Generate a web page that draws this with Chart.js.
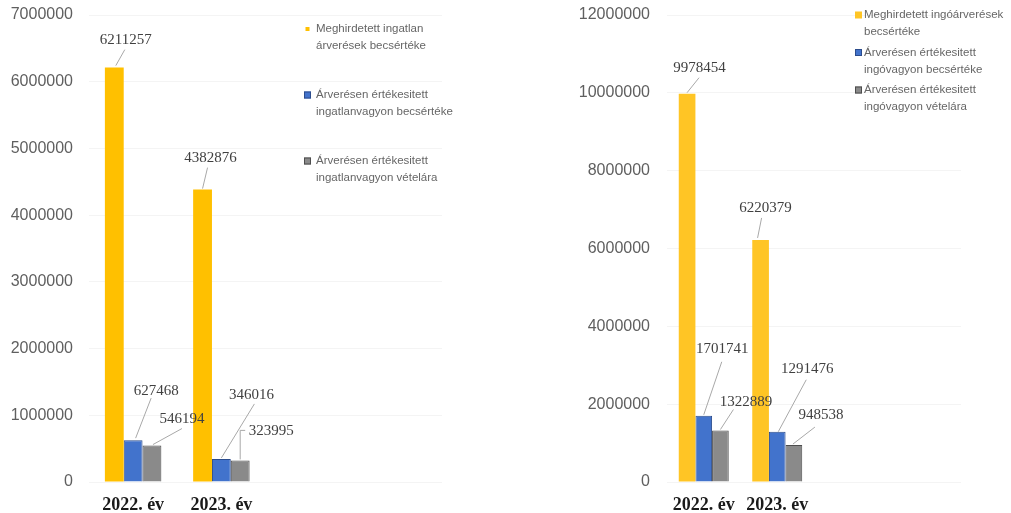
<!DOCTYPE html>
<html>
<head>
<meta charset="utf-8">
<script src="https://cdn.jsdelivr.net/npm/chart.js@4.4.0/dist/chart.umd.min.js"></script>
<style>
  body { margin: 0; background: #fff; width: 1011px; height: 513px; overflow: hidden; position: relative; }
  canvas { position: absolute; top: 0; }
</style>
</head>
<body>
<canvas id="left" width="505" height="513" style="left:0"></canvas>
<canvas id="right" width="506" height="513" style="left:505px"></canvas>
<script>
// categories (two empty slots keep the bars on the left like in the original)
const years = ['2022. év', '2023. év', '', ''];

// ingatlan (left chart)
const ingatlanMeghirdetett = [6211257, 4382876];
const ingatlanErtekesitett = [627468, 346016];
const ingatlanVetelar = [546194, 323995];
const ingatlanNames = [
  ['Meghirdetett ingatlan', 'árverések becsértéke'],
  ['Árverésen értékesitett', 'ingatlanvagyon becsértéke'],
  ['Árverésen értékesitett', 'ingatlanvagyon vételára']
];
const ingatlanTicks = [0, 1000000, 2000000, 3000000, 4000000, 5000000, 6000000, 7000000];

// ingó (right chart)
const ingoMeghirdetett = [9978454, 6220379];
const ingoErtekesitett = [1701741, 1291476];
const ingoVetelar = [1322889, 948538];
const ingoNames = [
  ['Meghirdetett ingóárverések', 'becsértéke'],
  ['Árverésen értékesitett', 'ingóvagyon becsértéke'],
  ['Árverésen értékesitett', 'ingóvagyon vételára']
];
const ingoTicks = [0, 2000000, 4000000, 6000000, 8000000, 10000000, 12000000];

/* ---------- plugins ---------- */

// value labels with thin leader lines, placed relative to the bar top
const leaderLabels = {
  id: 'leaderLabels',
  afterDatasetsDraw(chart, args, opts) {
    const ctx = chart.ctx;
    ctx.save();
    chart.data.datasets.forEach((ds, di) => {
      const meta = chart.getDatasetMeta(di);
      meta.data.forEach((bar, i) => {
        const spot = opts.spots[di][i];
        ctx.strokeStyle = opts.lineColor;
        ctx.lineWidth = 1;
        ctx.beginPath();
        spot.path.forEach(([px, py], k) => {
          const x = bar.x + px, y = bar.y + py;
          if (k) ctx.lineTo(x, y); else ctx.moveTo(x, y);
        });
        ctx.stroke();
        ctx.fillStyle = opts.color;
        ctx.font = opts.font;
        ctx.textAlign = 'center';
        ctx.textBaseline = 'middle';
        ctx.fillText(String(ds.data[i]), bar.x + spot.dx, bar.y + spot.dy);
      });
    });
    ctx.restore();
  }
};

// two-line legend drawn inside the plot
const boxLegend = {
  id: 'boxLegend',
  afterDraw(chart, args, opts) {
    const ctx = chart.ctx;
    ctx.save();
    ctx.font = opts.font;
    ctx.textAlign = 'left';
    ctx.textBaseline = 'middle';
    opts.names.forEach((lines, i) => {
      const ds = chart.data.datasets[i];
      const y = opts.y + i * opts.step;
      const s = opts.boxes[i];
      ctx.fillStyle = ds.backgroundColor;
      ctx.fillRect(opts.x + (7 - s) / 2, y - s / 2, s, s);
      if (ds.borderWidth) {
        ctx.strokeStyle = ds.borderColor;
        ctx.lineWidth = 1;
        ctx.strokeRect(opts.x + (7 - s) / 2 + 0.5, y - s / 2 + 0.5, s - 1, s - 1);
      }
      ctx.fillStyle = opts.color;
      lines.forEach((t, j) => ctx.fillText(t, opts.textX, y + j * opts.lineHeight));
    });
    ctx.restore();
  }
};

function makeChart(id, cfg) {
  return new Chart(document.getElementById(id), {
    type: 'bar',
    data: {
      labels: years,
      datasets: [
        { label: cfg.names[0].join(' '), data: cfg.series[0], backgroundColor: cfg.yellow, borderWidth: 0 },
        { label: cfg.names[1].join(' '), data: cfg.series[1], backgroundColor: '#4273CC', borderColor: '#2C4C8C', borderWidth: 1 },
        { label: cfg.names[2].join(' '), data: cfg.series[2], backgroundColor: '#8A8A8A', borderColor: '#4D4D4D', borderWidth: 1 }
      ]
    },
    options: {
      responsive: false,
      animation: false,
      events: [],
      layout: { padding: { top: 15, right: cfg.padRight, left: 0, bottom: 0 } },
      datasets: { bar: { categoryPercentage: cfg.catPct, barPercentage: 1 } },
      scales: {
        x: {
          grid: { display: false },
          border: { display: false },
          ticks: {
            autoSkip: false, maxRotation: 0, padding: 5,
            color: '#1a1a1a',
            font: { family: '"Liberation Serif", "Times New Roman", serif', size: 18, weight: 'bold' }
          },
          afterFit: s => { s.height = 31; }
        },
        y: {
          min: 0,
          max: cfg.ticks[cfg.ticks.length - 1],
          afterBuildTicks: s => { s.ticks = cfg.ticks.map(v => ({ value: v })); },
          grid: { color: '#f4f4f4', drawTicks: false },
          border: { display: false },
          ticks: {
            padding: cfg.tickPad,
            color: '#5f5f5f',
            font: { family: '"Liberation Sans", Arial, sans-serif', size: 16 },
            callback: v => String(v)
          },
          afterFit: s => {
            s.width = cfg.axisWidth;
            // tick padding is horizontal only here; don't let it push the plot down
            s.paddingTop = 10;
            s.paddingBottom = 10;
          }
        }
      },
      plugins: {
        legend: { display: false },
        tooltip: { enabled: false },
        leaderLabels: {
          spots: cfg.spots,
          lineColor: '#a8a8a8',
          color: '#404040',
          font: '15px "Liberation Serif", "Times New Roman", serif'
        },
        boxLegend: Object.assign({
          names: cfg.names,
          color: '#666666',
          font: '11.5px "Liberation Sans", Arial, sans-serif'
        }, cfg.legend)
      }
    },
    plugins: [leaderLabels, boxLegend]
  });
}

makeChart('left', {
  series: [ingatlanMeghirdetett, ingatlanErtekesitett, ingatlanVetelar],
  names: ingatlanNames,
  ticks: ingatlanTicks,
  yellow: '#FFC000',
  axisWidth: 89, tickPad: 16, padRight: 63, catPct: 0.64,
  legend: { x: 304, textX: 316, y: 29, step: 66, lineHeight: 17, boxes: [4, 7, 7] },
  spots: [
    [{ dx: 11.5, dy: -28, path: [[1.5, -2], [10.5, -18]] }, { dx: 8, dy: -32, path: [[0, -1], [5, -22]] }],
    [{ dx: 23, dy: -49, path: [[2.5, -2], [18, -42]] }, { dx: 30, dy: -64, path: [[0, -1], [33, -55]] }],
    [{ dx: 30, dy: -26, path: [[1, -1], [30, -17]] }, { dx: 31, dy: -29, path: [[0, -1], [0, -30], [5, -30]] }]
  ]
});

makeChart('right', {
  series: [ingoMeghirdetett, ingoErtekesitett, ingoVetelar],
  names: ingoNames,
  ticks: ingoTicks,
  yellow: '#FFC525',
  axisWidth: 162, tickPad: 17, padRight: 50, catPct: 0.68,
  legend: { x: 350, textX: 359, y: 15, step: 37.5, lineHeight: 17, boxes: [7, 7, 7] },
  spots: [
    [{ dx: 12.5, dy: -26, path: [[0, -1], [12, -16]] }, { dx: 5, dy: -32, path: [[-3, -2], [1, -22]] }],
    [{ dx: 18.5, dy: -67, path: [[0, -1], [18, -54]] }, { dx: 30, dy: -63, path: [[1, 0], [29, -52]] }],
    [{ dx: 25.5, dy: -28, path: [[0, -1], [13, -21]] }, { dx: 27, dy: -30, path: [[-1, -1], [21, -18]] }]
  ]
});
</script>
</body>
</html>
